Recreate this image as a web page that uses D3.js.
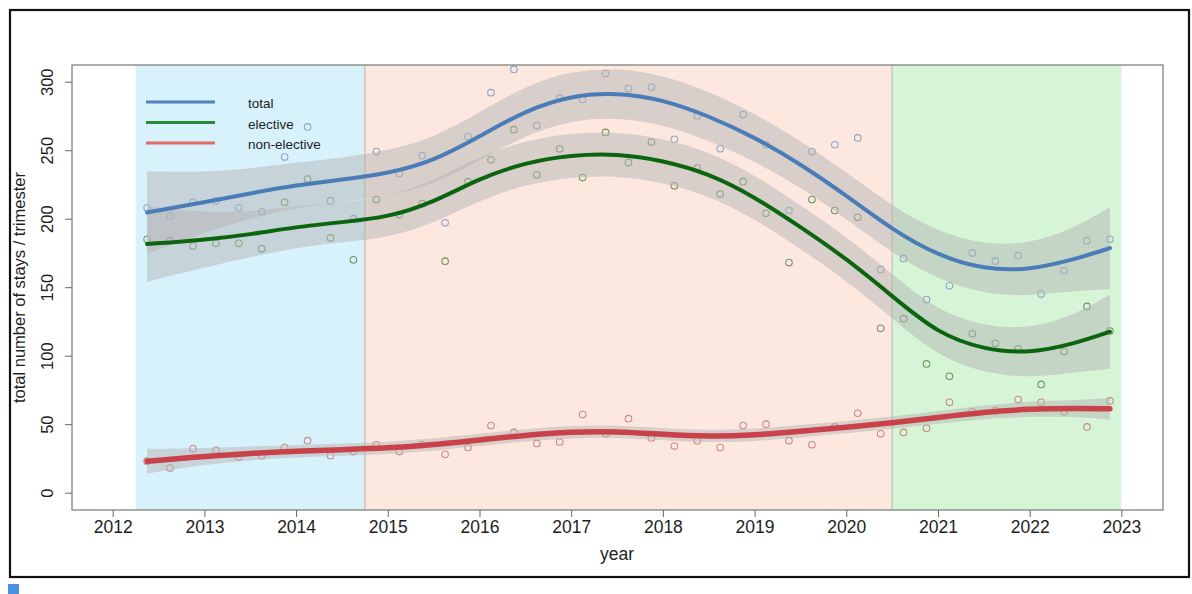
<!DOCTYPE html>
<html>
<head>
<meta charset="utf-8">
<script src="https://cdn.jsdelivr.net/npm/d3@7"></script>
<style>
  html, body { margin: 0; padding: 0; background: #fff; }
  svg { display: block; }
  text { font-family: "Liberation Sans", Arial, Helvetica, sans-serif; }
</style>
</head>
<body>
<svg id="chart" width="1192" height="594"></svg>
<script>
// Quarterly hospital stays, Q2 2012 – Q4 2022
const quarters = [
  "2012 Q2","2012 Q3","2012 Q4",
  "2013 Q1","2013 Q2","2013 Q3","2013 Q4",
  "2014 Q1","2014 Q2","2014 Q3","2014 Q4",
  "2015 Q1","2015 Q2","2015 Q3","2015 Q4",
  "2016 Q1","2016 Q2","2016 Q3","2016 Q4",
  "2017 Q1","2017 Q2","2017 Q3","2017 Q4",
  "2018 Q1","2018 Q2","2018 Q3","2018 Q4",
  "2019 Q1","2019 Q2","2019 Q3","2019 Q4",
  "2020 Q1","2020 Q2","2020 Q3","2020 Q4",
  "2021 Q1","2021 Q2","2021 Q3","2021 Q4",
  "2022 Q1","2022 Q2","2022 Q3","2022 Q4"
];
const elective = [185,184,180,182,182,178,212,229,186,170,214,203,211,169,227,243,265,232,251,230,263,241,256,224,237,218,227,204,168,214,206,201,120,127,94,85,116,109,105,79,103,136,118];
const nonElective = [23,18,32,31,26,27,33,38,27,30,35,30,35,28,33,49,44,36,37,57,43,54,40,34,38,33,49,50,38,35,48,58,43,44,47,66,59,60,68,66,59,48,67];
const total = [208,202,212,213,208,205,245,267,213,200,249,233,246,197,260,292,309,268,288,287,306,295,296,258,275,251,276,254,206,249,254,259,163,171,141,151,175,169,173,145,162,184,185];

// Smoothed trends with confidence half-widths
const fitYears = [2012.375,2013,2013.5,2014,2014.5,2015,2015.5,2016,2016.5,2017,2017.5,2018,2018.5,2019,2019.5,2020,2020.5,2021,2021.5,2022,2022.5,2022.875];
const fitTotal = [204.5,212,218.5,224.5,228.5,233,242,260,279,290,292,287,275,259.5,240,217,192,173,163,162.5,170.5,178.5];
const ciTotal = [30,22,18,16.5,16,16.5,17,17.5,18,18,18,18,18,17.5,17,17,17,17.5,18,19,23,30];
const fitElective = [181.5,184.5,188.5,194,197.5,201,212,229.5,241,246.5,247.5,242.5,233,216,194,171,143.5,116,104.5,101.5,109,117.5];
const ciElective = [27.5,20,16.5,15,14.5,15,15.5,16,16,16,16,16,16,16,16,16,16,16.5,17,18,21,27];
const fitNonElective = [23,26.5,28.8,30.3,31.4,32.5,35,38.5,42,44.5,44.8,42.6,41,42,44.8,47.8,51,55,58.8,61.2,61.5,61.3];
const ciNonElective = [9,6,5,4.5,4.5,4.5,4.5,4.5,4.5,4.5,4.5,4.5,4.5,4.5,4.5,4.5,4.5,4.5,5,5.5,6,8];

// Study periods
const periods = [
  { start: 2012.25, end: 2014.75, color: "#d8f2fc" },
  { start: 2014.75, end: 2020.5, color: "#fde8e0" },
  { start: 2020.5, end: 2023.0, color: "#d5f5d6" }
];

const xTicks = [2012,2013,2014,2015,2016,2017,2018,2019,2020,2021,2022,2023];
const yTicks = [0,50,100,150,200,250,300];

const seriesNames = ["total", "elective", "non-elective"];

const svg = d3.select("#chart");

const box = { left: 72, right: 1163, top: 65, bottom: 510 };
const x = d3.scaleLinear().domain([2011.556, 2023.454]).range([box.left, box.right]);
const y = d3.scaleLinear().domain([-12.63, 312.2]).range([box.bottom, box.top]);

function quarterToYear(q) {
  const [yr, qq] = q.split(" Q");
  return +yr + (+qq - 1) * 0.25 + 0.125;
}
const qYears = quarters.map(quarterToYear);

// outer frame
svg.append("rect")
  .attr("x", 10).attr("y", 10).attr("width", 1179).attr("height", 567)
  .attr("fill", "#fff").attr("stroke", "#111").attr("stroke-width", 2.2);

// period shading
svg.append("g").selectAll("rect").data(periods).join("rect")
  .attr("x", d => x(d.start))
  .attr("y", box.top)
  .attr("width", d => x(d.end) - x(d.start))
  .attr("height", box.bottom - box.top)
  .attr("fill", d => d.color);

svg.append("g").selectAll("line").data(periods.slice(1)).join("line")
  .attr("x1", d => x(d.start)).attr("x2", d => x(d.start))
  .attr("y1", box.top).attr("y2", box.bottom)
  .attr("stroke", "#c4bcb8").attr("stroke-width", 1.2);

// observed points
const pointSets = [
  { values: total, color: "#8aa6c6" },
  { values: elective, color: "#6f9660" },
  { values: nonElective, color: "#c98a8a" }
];
pointSets.forEach(s => {
  svg.append("g").selectAll("circle").data(s.values).join("circle")
    .attr("cx", (d, i) => x(qYears[i]))
    .attr("cy", d => y(d))
    .attr("r", 3.3)
    .attr("fill", "none")
    .attr("stroke", s.color)
    .attr("stroke-width", 1.1);
});

// confidence bands
const fits = [
  { fit: fitTotal, ci: ciTotal, color: "#4a7db8", width: 4 },
  { fit: fitElective, ci: ciElective, color: "#0b650f", width: 4 },
  { fit: fitNonElective, ci: ciNonElective, color: "#c9424a", width: 5.5 }
];
const area = d3.area()
  .x(d => x(d.yr)).y0(d => y(d.v - d.c)).y1(d => y(d.v + d.c))
  .curve(d3.curveBasis);
const line = d3.line()
  .x(d => x(d.yr)).y(d => y(d.v))
  .curve(d3.curveBasis);

fits.forEach(f => {
  const pts = fitYears.map((yr, i) => ({ yr, v: f.fit[i], c: f.ci[i] }));
  svg.append("path").datum(pts)
    .attr("d", area)
    .attr("fill", "#b4b4b4")
    .attr("fill-opacity", 0.5);
});
fits.forEach(f => {
  const pts = fitYears.map((yr, i) => ({ yr, v: f.fit[i], c: f.ci[i] }));
  svg.append("path").datum(pts)
    .attr("d", line)
    .attr("fill", "none")
    .attr("stroke", f.color)
    .attr("stroke-width", f.width)
    .attr("stroke-linecap", "round");
});

// plot box
svg.append("rect")
  .attr("x", box.left).attr("y", box.top)
  .attr("width", box.right - box.left).attr("height", box.bottom - box.top)
  .attr("fill", "none").attr("stroke", "#777").attr("stroke-width", 1.2);

// axes
const xAxis = svg.append("g")
  .attr("transform", `translate(0,${box.bottom})`)
  .call(d3.axisBottom(x).tickValues(xTicks).tickFormat(d3.format("d")).tickSize(7).tickSizeOuter(0).tickPadding(4));
xAxis.select(".domain").remove();
xAxis.selectAll(".tick line").attr("stroke", "#666");
xAxis.selectAll(".tick text")
  .attr("font-size", 17.5).attr("fill", "#1e1e1e")
  .attr("font-family", "Liberation Sans, Arial, sans-serif");

const yAxis = svg.append("g")
  .attr("transform", `translate(${box.left},0)`)
  .call(d3.axisLeft(y).tickValues(yTicks).tickSize(7).tickSizeOuter(0).tickFormat(d3.format("d")));
yAxis.select(".domain").remove();
yAxis.selectAll(".tick line").attr("stroke", "#666");
yAxis.selectAll(".tick text")
  .attr("x", null).attr("dy", null)
  .attr("transform", "translate(-25,0) rotate(-90)")
  .attr("text-anchor", "middle")
  .attr("dominant-baseline", "central")
  .attr("font-size", 16.5).attr("fill", "#1e1e1e")
  .attr("font-family", "Liberation Sans, Arial, sans-serif");

// axis titles
svg.append("text")
  .attr("x", 617).attr("y", 554)
  .attr("text-anchor", "middle").attr("dominant-baseline", "central")
  .attr("font-size", 17.5).attr("fill", "#1e1e1e")
  .text("year");
svg.append("text")
  .attr("transform", `translate(19,${(box.top + box.bottom) / 2}) rotate(-90)`)
  .attr("text-anchor", "middle").attr("dominant-baseline", "central")
  .attr("font-size", 16.5).attr("fill", "#1e1e1e")
  .text("total number of stays / trimester");

// legend
const legendColors = ["#4f81bd", "#2a8a3a", "#e06a6a"];
const legend = svg.append("g");
seriesNames.forEach((name, i) => {
  const ly = 102 + i * 20.5;
  legend.append("line")
    .attr("x1", 146).attr("x2", 215).attr("y1", ly).attr("y2", ly)
    .attr("stroke", legendColors[i]).attr("stroke-width", 2.8);
  legend.append("text")
    .attr("x", 248).attr("y", ly + 1.5)
    .attr("dominant-baseline", "central")
    .attr("font-size", 13.5).attr("fill", "#1e1e1e")
    .text(name);
});

// small marker below frame
svg.append("rect")
  .attr("x", 8).attr("y", 584).attr("width", 11).attr("height", 10)
  .attr("fill", "#4a90e2");
</script>
</body>
</html>
